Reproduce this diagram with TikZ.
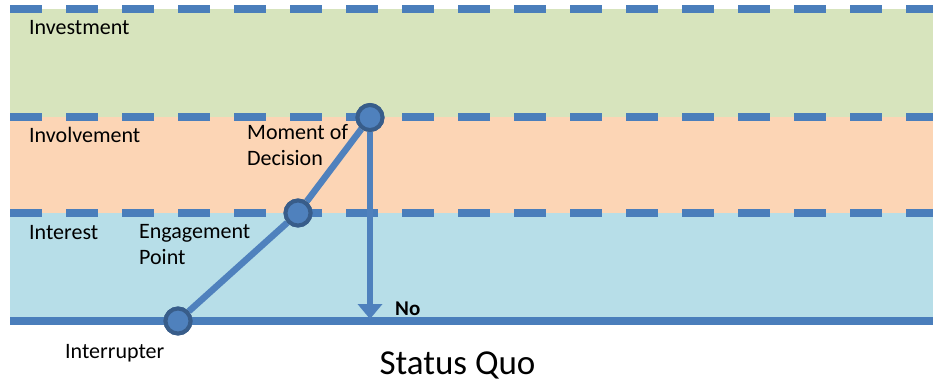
\documentclass[tikz,border=0pt]{standalone}
\usepackage{fontspec}
\setmainfont{Carlito}
\usetikzlibrary{arrows.meta}
\definecolor{bandgreen}{HTML}{D7E4BD}
\definecolor{bandorange}{HTML}{FCD5B5}
\definecolor{bandblue}{HTML}{B7DEE8}
\definecolor{lineblue}{HTML}{4A7EBB}
\definecolor{dotfill}{HTML}{4F81BD}
\definecolor{dotedge}{HTML}{385D8A}
\tikzset{
  boundary/.style={draw=lineblue, line width=8pt, dash pattern=on 32pt off 24pt},
  baseline/.style={draw=lineblue, line width=8pt},
  path/.style={draw=dotfill, line width=6.5pt},
  stage/.style={circle, fill=dotfill, draw=dotedge, line width=4pt, minimum size=25pt, inner sep=0pt},
  lbl/.style={anchor=base west, font=\fontsize{22pt}{26pt}\selectfont, inner sep=0pt, text=black, align=left},
}
\begin{document}
\begin{tikzpicture}[x=1pt, y=-1pt]
  \useasboundingbox (0,0) rectangle (933,381);
  % coloured bands
  \fill[bandgreen]  (10,9)   rectangle (933,117);
  \fill[bandorange] (10,117) rectangle (933,213);
  \fill[bandblue]   (10,213) rectangle (933,321);
  % band boundaries
  \draw[boundary] (10,9)   -- (933,9);
  \draw[boundary] (10,117) -- (933,117);
  \draw[boundary] (10,213) -- (933,213);
  \draw[baseline] (10,321) -- (933,321);
  % band names
  \node[lbl] (investment) at (29,34.5)  {Investment};
  \node[lbl] (involvement) at (29,142.5) {Involvement};
  \node[lbl] (interest) at (29,239.5) {Interest};
  % stages
  \node[stage] (interrupter) at (178,321) {};
  \node[stage] (engagement) at (298,213) {};
  \node[stage] (decision) at (370,117.5) {};
  \coordinate (notip) at (370,319);
  \draw[path] (interrupter) -- (engagement);
  \draw[path] (engagement) -- (decision);
  \draw[path, -{Triangle[width=24pt,length=15pt]}] (decision.south) -- (notip);
  \node[stage] at (interrupter) {};
  \node[stage] at (engagement) {};
  \node[stage] at (decision) {};
  % stage labels
  \node[lbl] (decisionlbl) at (247,139.5) {Moment of};
  \node[lbl] (decisionlbl2) at (247,165.5) {Decision};
  \node[lbl] (engagementlbl) at (139,238.5) {Engagement};
  \node[lbl] (engagementlbl2) at (139,264.5) {Point};
  \node[lbl] (interrupterlbl) at (65,358.5) {Interrupter};
  \node[lbl, font=\fontsize{21pt}{24pt}\selectfont\bfseries] (no) at (395,315) {No};
  \node[anchor=base, font=\fontsize{35pt}{40pt}\selectfont, inner sep=0pt] (statusquo) at (457.5,374) {Status Quo};
\end{tikzpicture}
\end{document}
